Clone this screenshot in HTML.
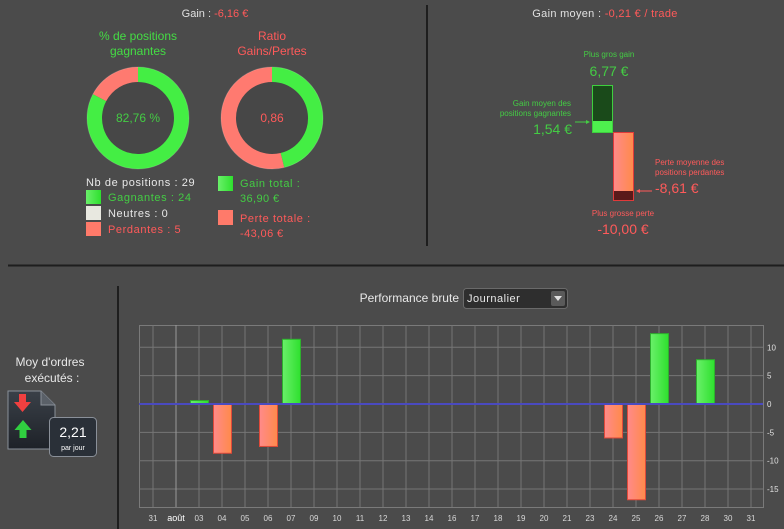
<!DOCTYPE html>
<html><head><meta charset="utf-8">
<style>
html,body{margin:0;padding:0;background:#4b4b4b;}
svg{display:block;font-family:"Liberation Sans",sans-serif;}
</style></head>
<body>
<svg width="784" height="529" viewBox="0 0 784 529" xmlns="http://www.w3.org/2000/svg">
<defs>
<linearGradient id="gGreen" x1="0" x2="1"><stop offset="0" stop-color="#6af06a"/><stop offset="1" stop-color="#2ee02e"/></linearGradient>
<linearGradient id="gRed" x1="0" x2="1"><stop offset="0" stop-color="#ff8a8a"/><stop offset="1" stop-color="#ff8a4a"/></linearGradient>
<linearGradient id="gIcon" x1="0" y1="0" x2="0" y2="1"><stop offset="0" stop-color="#3a4048"/><stop offset="1" stop-color="#1e2228"/></linearGradient>
</defs>
<rect width="784" height="529" fill="#4b4b4b"/>
<!-- dividers -->
<line x1="427" y1="5" x2="427" y2="246" stroke="#1e1e1e" stroke-width="2"/>
<line x1="8" y1="265.5" x2="784" y2="265.5" stroke="#1e1e1e" stroke-width="2"/>
<line x1="118" y1="286" x2="118" y2="529" stroke="#1e1e1e" stroke-width="2"/>

<!-- Gain header -->
<text x="215" y="17" text-anchor="middle" font-size="11" fill="#e0e0e0">Gain : <tspan fill="#ff5a5a">-6,16 €</tspan></text>
<text x="138" y="40" text-anchor="middle" font-size="12" fill="#44dd44">% de positions</text>
<text x="138" y="55" text-anchor="middle" font-size="12" fill="#44dd44">gagnantes</text>
<text x="272" y="40" text-anchor="middle" font-size="12" fill="#ff5a5a">Ratio</text>
<text x="272" y="55" text-anchor="middle" font-size="12" fill="#ff5a5a">Gains/Pertes</text>

<g id="donuts"></g>
<text x="138" y="122" text-anchor="middle" font-size="12" fill="#44cc44">82,76 %</text>
<text x="272" y="122" text-anchor="middle" font-size="12" fill="#ff5a5a">0,86</text>

<!-- legend left -->
<text x="86" y="186" font-size="11" fill="#e8e8e8" letter-spacing="0.6">Nb de positions : 29</text>
<rect x="86" y="190" width="15" height="14" fill="url(#gGreen)"/>
<text x="108" y="201" font-size="11" fill="#44cc44" letter-spacing="0.6">Gagnantes : 24</text>
<rect x="86" y="206" width="15" height="14" fill="#e8e8e0"/>
<text x="108" y="217" font-size="11" fill="#e8e8e8" letter-spacing="0.6">Neutres : 0</text>
<rect x="86" y="222" width="15" height="14" fill="#ff7a6a"/>
<text x="108" y="233" font-size="11" fill="#ff5a5a" letter-spacing="0.6">Perdantes : 5</text>
<!-- legend right -->
<rect x="218" y="176" width="15" height="15" fill="url(#gGreen)"/>
<text x="240" y="187" font-size="11" fill="#44cc44" letter-spacing="0.6">Gain total :</text>
<text x="240" y="202" font-size="11" fill="#44cc44" letter-spacing="0.4">36,90 €</text>
<rect x="218" y="210" width="15" height="15" fill="#ff7a6a"/>
<text x="240" y="222" font-size="11" fill="#ff5a5a" letter-spacing="0.6">Perte totale :</text>
<text x="240" y="237" font-size="11" fill="#ff5a5a" letter-spacing="0.4">-43,06 €</text>

<!-- right panel -->
<text x="605" y="17" text-anchor="middle" font-size="11" fill="#e0e0e0" letter-spacing="0.3">Gain moyen : <tspan fill="#ff5a5a">-0,21 € / trade</tspan></text>
<text x="609" y="57" text-anchor="middle" font-size="8" fill="#44cc44">Plus gros gain</text>
<text x="609" y="76" text-anchor="middle" font-size="14" fill="#44cc44">6,77 €</text>
<rect x="592.5" y="85.5" width="20" height="47" fill="#1a4a1a" stroke="#3ecf3e"/>
<rect x="593" y="121" width="19" height="11" fill="#4ef04e"/>
<text x="571" y="106" text-anchor="end" font-size="8" fill="#44cc44">Gain moyen des</text>
<text x="571" y="116" text-anchor="end" font-size="8" fill="#44cc44">positions gagnantes</text>
<text x="572" y="134" text-anchor="end" font-size="14" fill="#44cc44">1,54 €</text>
<line x1="575" y1="122" x2="589" y2="122" stroke="#44cc44"/><path d="M590 122 l-4 -2 v4z" fill="#44cc44"/>
<rect x="613.5" y="132.5" width="20" height="68" fill="url(#gRed)" stroke="#e03a3a"/>
<rect x="614" y="191" width="19" height="9" fill="#5a1a1a"/>
<text x="655" y="165" font-size="8" fill="#ff5a5a">Perte moyenne des</text>
<text x="655" y="175" font-size="8" fill="#ff5a5a">positions perdantes</text>
<text x="655" y="193" font-size="14" fill="#ff5a5a">-8,61 €</text>
<line x1="638" y1="191" x2="652" y2="191" stroke="#ff5a5a"/><path d="M636 191 l4 -2 v4z" fill="#ff5a5a"/>
<text x="623" y="216" text-anchor="middle" font-size="8" fill="#ff5a5a">Plus grosse perte</text>
<text x="623" y="234" text-anchor="middle" font-size="14" fill="#ff5a5a">-10,00 €</text>

<!-- left bottom -->
<text x="50" y="366" text-anchor="middle" font-size="12" fill="#e8e8e8">Moy d'ordres</text>
<text x="52" y="382" text-anchor="middle" font-size="12" fill="#e8e8e8">exécutés :</text>
<g>
<path d="M8 391 H41 L55 405 V449 H8 Z" fill="url(#gIcon)" stroke="#8a9099" stroke-width="1"/>
<path d="M41 391 V405 H55" fill="#5a6068" stroke="#8a9099"/>
<path d="M19 394 h7 v8 h5 l-8.5 10 l-8.5 -10 h5z" fill="#f04040"/>
<path d="M23 420 l8.5 10 h-5 v8 h-7 v-8 h-5z" fill="#30d040"/>
<rect x="49.5" y="417.5" width="47" height="39" rx="4" fill="#2a3038" stroke="#8a9099"/>
</g>
<text x="73" y="437" text-anchor="middle" font-size="14" fill="#ffffff">2,21</text>
<text x="73" y="450" text-anchor="middle" font-size="7" fill="#ffffff">par jour</text>

<!-- dropdown -->
<text x="459" y="302" text-anchor="end" font-size="12" fill="#e8e8e8">Performance brute</text>
<g>
<rect x="463.5" y="288.5" width="104" height="20" rx="3" fill="#2e2e2e" stroke="#6a6a6a"/>
<rect x="551" y="291" width="14" height="15" rx="2" fill="#5a5a5a"/>
<path d="M554 296 h8 l-4 5z" fill="#e0e0e0"/>
<text x="467" y="302" font-size="11" fill="#e8e8e8" letter-spacing="0.5">Journalier</text>
</g>

<g id="chart"></g>
</svg>
<script>
const categories = ["31","août","03","04","05","06","07","09","10","11","12","13","14","16","17","18","19","20","21","23","24","25","26","27","28","30","31"];
const values = [null,null,0.7,-8.6,null,-7.4,11.5,null,null,null,null,null,null,null,null,null,null,null,null,null,-5.9,-16.8,12.5,null,7.9,null,null];
const yTicks = [10,5,0,-5,-10,-15];
const winPct = [82.76];
const gainLoss = [36.90, 43.06];

const NS = "http://www.w3.org/2000/svg";
function mk(tag, attrs, parent){const e=document.createElementNS(NS,tag);for(const k in attrs)e.setAttribute(k,attrs[k]);parent.appendChild(e);return e;}

// donuts
const dg = document.getElementById('donuts');
function arc(cx,cy,r,a0,a1){
  const p=(a)=>[cx+r*Math.sin(a),cy-r*Math.cos(a)];
  const [x0,y0]=p(a0),[x1,y1]=p(a1);
  const large=(a1-a0)>Math.PI?1:0;
  return `M${x0} ${y0} A${r} ${r} 0 ${large} 1 ${x1} ${y1}`;
}
function donut(cx,cy,frac,name){
  const r=43.5, w=15;
  mk('circle',{cx,cy,r:36,fill:'#474747'},dg);
  const g=mk('path',{d:arc(cx,cy,r,0,frac*2*Math.PI-0.0001),stroke:'#44ee44','stroke-width':w,fill:'none'},dg);
  
  
  const rd=mk('path',{d:arc(cx,cy,r,frac*2*Math.PI,2*Math.PI-0.0001),stroke:'#ff7a70','stroke-width':w,fill:'none'},dg);
  
  
  mk('circle',{cx,cy,r:51,fill:'none',stroke:'rgba(255,255,255,0.15)','stroke-width':1},dg);
}
donut(138,118,winPct[0]/100,'win-pct-donut');
donut(272,118,gainLoss[0]/(gainLoss[0]+gainLoss[1]),'ratio-donut');

// bar chart
const ch = document.getElementById('chart');
const L=139,R=763,T=325,B=507;
const x0=153, step=(751-153)/(categories.length-1);
const xs=i=>x0+i*step;
const y=v=>404-v*5.67;
mk('rect',{x:L+0.5,y:T+0.5,width:R-L,height:B-T,fill:'none',stroke:'#7a7a7a'},ch);
yTicks.forEach(t=>{
  const l=mk('line',{x1:L,x2:R,y1:y(t),y2:y(t),stroke:'#767676','stroke-width':1},ch);
  
  
  const tx=mk('text',{x:R+4,y:y(t)+3,'font-size':8,fill:'#e0e0e0'},ch);
  tx.textContent=t;
  
  
});
categories.forEach((c,i)=>{
  const l=mk('line',{x1:xs(i),x2:xs(i),y1:T,y2:B,stroke:i==1?'#9a9a9a':'#767676','stroke-width':1},ch);
  
  
  const tx=mk('text',{x:xs(i),y:521,'font-size':i==1?9:8,'text-anchor':'middle',fill:i==1?'#ffffff':'#d8d8d8'},ch);
  tx.textContent=c;
  
  
});
values.forEach((v,i)=>{
  if(v===null)return;
  const bw=18;
  const top=v>0?y(v):y(0), h=Math.abs(y(v)-y(0));
  const b=mk('rect',{x:xs(i)-bw/2+0.5,y:top+0.5,width:bw,height:h,fill:v>0?'url(#gGreen)':'url(#gRed)',stroke:v>0?'#2eb02e':'#e04a3a','stroke-width':1},ch);
  
  
});
const z=mk('line',{x1:L,x2:R,y1:y(0),y2:y(0),stroke:'#4a4ac0','stroke-width':2},ch);


</script>
</body></html>
